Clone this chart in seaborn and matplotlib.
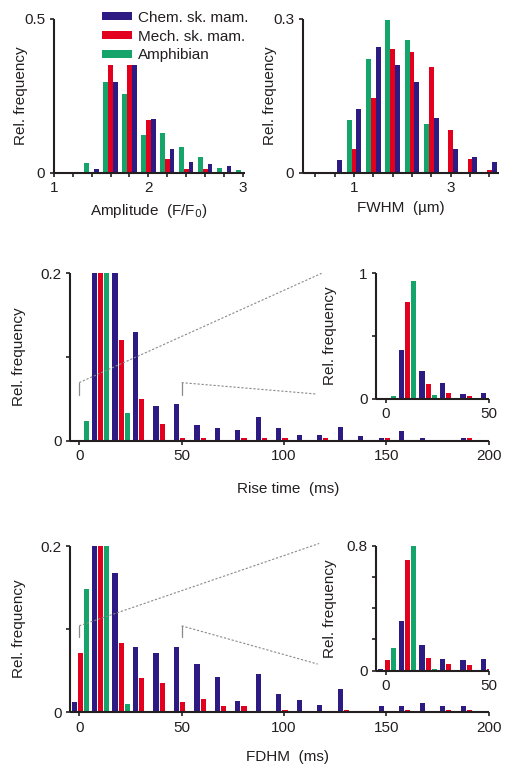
import numpy as np
import pandas as pd
import matplotlib
matplotlib.use("Agg")
import matplotlib.pyplot as plt
from matplotlib.patches import Patch
import seaborn as sns

# ---------------- data ----------------
series_names = ["Chem. sk. mam.", "Mech. sk. mam.", "Amphibian"]

amp_bins = [1.4, 1.6, 1.8, 2.0, 2.2, 2.4, 2.6, 2.8, 3.0]
amp_chem = [0.014, 0.294, 0.351, 0.174, 0.079, 0.035, 0.029, 0.023, 0.0]
amp_mech = [0.0, 0.350, 0.350, 0.171, 0.045, 0.012, 0.012, 0.0, 0.0]
amp_amph = [0.034, 0.294, 0.257, 0.125, 0.130, 0.086, 0.051, 0.015, 0.009]
amp_ticks = [1.0, 1.2, 1.4, 1.6, 1.8, 2.0, 2.2, 2.4, 2.6, 2.8, 3.0]
amp_ticklabels = ["1", "", "", "", "", "2", "", "", "", "", "3"]

fwhm_bins = [0.6, 1.0, 1.4, 1.8, 2.2, 2.6, 3.0, 3.4, 3.8]
fwhm_chem = [0.025, 0.125, 0.245, 0.210, 0.177, 0.107, 0.047, 0.031, 0.022]
fwhm_mech = [0.0, 0.047, 0.147, 0.242, 0.235, 0.206, 0.083, 0.027, 0.006]
fwhm_amph = [0.002, 0.103, 0.223, 0.299, 0.259, 0.095, 0.0, 0.0, 0.0]
fwhm_ticks = [0.2, 0.6, 1.0, 1.4, 1.8, 2.2, 2.6, 3.0, 3.4, 3.8]
fwhm_ticklabels = ["", "", "1", "", "", "", "", "3", "", ""]

time_bins = [0, 10, 20, 30, 40, 50, 60, 70, 80, 90, 100, 110, 120, 130, 140,
             150, 160, 170, 180, 190]
rise_chem = [0.0, 0.39, 0.223, 0.13, 0.042, 0.044, 0.019, 0.015, 0.013, 0.029,
             0.015, 0.007, 0.007, 0.017, 0.006, 0.003, 0.012, 0.003, 0.001, 0.003]
rise_mech = [0.0, 0.772, 0.121, 0.05, 0.02, 0.004, 0.004, 0.0, 0.003, 0.003,
             0.003, 0.0, 0.003, 0.0, 0.0, 0.003, 0.0, 0.0, 0.0, 0.003]
rise_amph = [0.024, 0.939, 0.033, 0.0, 0.0, 0.0, 0.0, 0.0, 0.0, 0.0,
             0.0, 0.0, 0.0, 0.0, 0.0, 0.0, 0.0, 0.0, 0.0, 0.0]

fdhm_chem = [0.012, 0.32, 0.167, 0.078, 0.071, 0.078, 0.058, 0.042, 0.014, 0.046,
             0.022, 0.015, 0.009, 0.028, 0.002, 0.008, 0.007, 0.011, 0.007, 0.008]
fdhm_mech = [0.071, 0.706, 0.083, 0.041, 0.035, 0.012, 0.016, 0.008, 0.008, 0.0,
             0.003, 0.0, 0.0, 0.003, 0.0, 0.0, 0.003, 0.0, 0.003, 0.003]
fdhm_amph = [0.148, 0.8, 0.010, 0.0, 0.0, 0.0, 0.0, 0.0, 0.0, 0.0,
             0.0, 0.0, 0.0, 0.0, 0.0, 0.0, 0.0, 0.0, 0.0, 0.0]

time_ticks = [0, 50, 100, 150, 200]
inset_ticks = [0, 50]

# ---------------- style ----------------
C_CHEM = "#2d1a82"
C_MECH = "#e3001f"
C_AMPH = "#15a46a"
INK = "#231f20"

sns.set_theme(style="ticks")
plt.rcParams["font.family"] = ["Liberation Sans", "DejaVu Sans"]
plt.rcParams.update({
    "font.size": 11,
    "axes.labelsize": 11,
    "xtick.labelsize": 11,
    "ytick.labelsize": 11,
    "axes.edgecolor": INK,
    "axes.linewidth": 1.5,
    "xtick.color": INK,
    "ytick.color": INK,
    "text.color": INK,
    "axes.labelcolor": INK,
    "xtick.major.size": 2.6,
    "ytick.major.size": 2.6,
    "xtick.major.width": 1.2,
    "ytick.major.width": 1.2,
    "xtick.major.pad": 3.5,
    "ytick.major.pad": 3.5,
})

W, H = 510, 769
fig = plt.figure(figsize=(W / 100, H / 100), dpi=100)


def px_axes(l, t, r, b):
    return fig.add_axes([l / W, 1 - b / H, (r - l) / W, (b - t) / H])


def bars(ax, centers, values, offset, color, width=0.25):
    df = pd.DataFrame({"x": np.round(np.asarray(centers, float) + offset, 4),
                       "y": values})
    sns.barplot(data=df, x="x", y="y", native_scale=True, width=width,
                color=color, saturation=1, errorbar=None, linewidth=0, ax=ax)


def finish(ax, xlim, ylim, xticks, xticklabels, yticks, yticklabels,
           xlabel, ylabel, ylab_x, xlab_y, xlab_x=0.5):
    sns.despine(ax=ax)
    ax.set_xlim(*xlim)
    ax.set_ylim(*ylim)
    ax.set_xticks(xticks)
    ax.set_xticklabels(xticklabels)
    ax.set_yticks(yticks)
    ax.set_yticklabels(yticklabels)
    ax.set_xlabel(xlabel)
    ax.set_ylabel(ylabel)
    ax.yaxis.set_label_coords(ylab_x, 0.5)
    if xlabel:
        ax.xaxis.set_label_coords(xlab_x, xlab_y)
    ax.spines["left"].set_capstyle("butt")
    ax.spines["bottom"].set_capstyle("butt")


# ---------------- panel A: amplitude ----------------
axA = px_axes(53.7, 19, 245, 173)
bars(axA, amp_bins, amp_amph, -0.05, C_AMPH)
bars(axA, amp_bins, amp_mech, 0.0, C_MECH)
bars(axA, amp_bins, amp_chem, 0.05, C_CHEM)
finish(axA, (1.0, 3.02), (0, 0.5), amp_ticks, amp_ticklabels,
       [0, 0.5], ["0", "0.5"], "Amplitude  (F/F$_0$)", "Rel. frequency",
       -0.133, -0.19)

# ---------------- panel B: FWHM ----------------
axB = px_axes(302.7, 19, 499, 173)
bars(axB, fwhm_bins, fwhm_amph, -0.1, C_AMPH)
bars(axB, fwhm_bins, fwhm_mech, 0.0, C_MECH)
bars(axB, fwhm_bins, fwhm_chem, 0.1, C_CHEM)
finish(axB, (-0.06, 4.0), (0, 0.3), fwhm_ticks, fwhm_ticklabels,
       [0, 0.3], ["0", "0.3"], "FWHM  (µm)", "Rel. frequency",
       -0.129, -0.18)


# ---------------- panels C/D: rise time and FDHM ----------------
def time_panel(top, bottom, inset_top, inset_bottom, chem, mech, amph,
               ylim, yticks, yticklabels, iylim, iyticks, iyticklabels,
               xlabel, xlab_y, bracket_y, up_end, low_end):
    ax = px_axes(70, top, 488.7, bottom)
    bars(ax, time_bins, chem, -2.5, C_CHEM)
    bars(ax, time_bins, mech, 0.5, C_MECH)
    bars(ax, time_bins, amph, 3.5, C_AMPH)
    finish(ax, (-4.5, 200), ylim, time_ticks, [str(t) for t in time_ticks],
           yticks, yticklabels, xlabel, "Rel. frequency", -0.104, xlab_y,
           xlab_x=0.52)

    ins = px_axes(376, inset_top, 488.7, inset_bottom)
    bars(ins, time_bins, chem, -2.5, C_CHEM)
    bars(ins, time_bins, mech, 0.5, C_MECH)
    bars(ins, time_bins, amph, 3.5, C_AMPH)
    finish(ins, (-4.9, 50), iylim, inset_ticks, [str(t) for t in inset_ticks],
           iyticks, iyticklabels, "", "Rel. frequency", -0.343, -0.2)

    # zoom connector decorations
    y0, y1 = bracket_y
    for xv in inset_ticks:
        ax.plot([xv, xv], [y0, y1], color="#8a8a8a", lw=0.9, clip_on=False)
    ax.plot([inset_ticks[0], up_end[0]], [y1, up_end[1]], color="#8a8a8a",
            lw=0.8, ls=(0, (2, 1.6)), clip_on=False)
    ax.plot([inset_ticks[1], low_end[0]], [y1, low_end[1]], color="#8a8a8a",
            lw=0.8, ls=(0, (2, 1.6)), clip_on=False)
    return ax, ins


time_panel(273.3, 441, 273.3, 399, rise_chem, rise_mech, rise_amph,
           (0, 0.2), [0, 0.1, 0.2], ["0", "", "0.2"],
           (0, 1.0), [0, 0.5, 1.0], ["0", "", "1"],
           "Rise time  (ms)", -0.245, (0.055, 0.0696),
           (118.4, 0.2), (116.0, 0.056))

time_panel(546, 712.3, 545.7, 670.7, fdhm_chem, fdhm_mech, fdhm_amph,
           (0, 0.2), [0, 0.1, 0.2], ["0", "", "0.2"],
           (0, 0.8), [0, 0.2, 0.4, 0.6, 0.8], ["0", "", "", "", "0.8"],
           "FDHM  (ms)", -0.225, (0.091, 0.104),
           (117.2, 0.203), (116.5, 0.058))

# ---------------- legend ----------------
handles = [Patch(facecolor=c, edgecolor="none") for c in (C_CHEM, C_MECH, C_AMPH)]
fig.legend(handles, series_names, loc="upper left",
           bbox_to_anchor=(91 / W, 1 - 0 / H), frameon=False,
           handlelength=2.0, handleheight=0.38, handletextpad=0.35,
           labelspacing=0.32, borderpad=0.2, fontsize=11)

fig.savefig("out.png", dpi=100)
